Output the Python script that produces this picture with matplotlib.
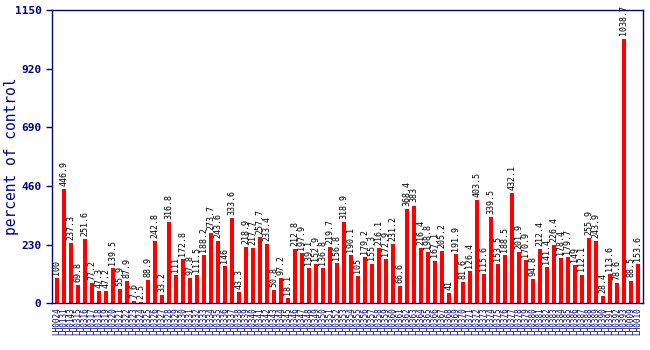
import numpy as np
import matplotlib
matplotlib.use("Agg")
import matplotlib.pyplot as plt

# percent of control per line
values = [100, 446.9, 237.3, 69.8, 251.6, 77.2, 47.3, 47.2, 139.5, 55.9,
          87.9, 7.6, 2.5, 88.9, 242.8, 33.2, 316.8, 111, 172.8, 97.8,
          111.5, 188.2, 273.7, 243.6, 146, 333.6, 43.3, 218.9, 217.7, 257.7,
          233.4, 50.8, 97.2, 18.1, 212.8, 197.9, 139.1, 152.9, 136.8, 219.7,
          156.8, 318.9, 190.1, 105, 179.2, 155.3, 216.1, 172.9, 231.2, 66.6,
          368.4, 383, 216.4, 198.8, 167.1, 205.2, 41, 191.9, 81.6, 126.4,
          403.5, 115.6, 339.5, 153.5, 188.5, 432.1, 201.9, 170.9, 94.8, 212.4,
          141.4, 226.4, 178.4, 179.7, 149, 112.1, 255.9, 243.9, 28.4, 113.6,
          78.6, 1038.7, 88.5, 153.6]

labels = ["LH0024", "LH0131", "LH0143", "LH0315", "LH0316", "LH0317", "LH0318",
          "LH0319", "LH0320", "LH0321", "LH0322", "LH0323", "LH0324", "LH0325",
          "LH0326", "LH0327", "LH0328", "LH0329", "LH0330", "LH0331", "LH0332",
          "LH0333", "LH0334", "LH0335", "LH0336", "LH0337", "LH0338", "LH0339",
          "LH0340", "LH0341", "LH0342", "LH0343", "LH0344", "LH0345", "LH0346",
          "LH0347", "LH0348", "LH0349", "LH0350", "LH0351", "LH0352", "LH0353",
          "LH0354", "LH0355", "LH0356", "LH0357", "LH0358", "LH0359", "LH0360",
          "LH0361", "LH0362", "LH0363", "LH0364", "LH0365", "LH0366", "LH0367",
          "LH0368", "LH0369", "LH0370", "LH0371", "LH0372", "LH0373", "LH0374",
          "LH0375", "LH0376", "LH0377", "LH0378", "LH0379", "LH0380", "LH0381",
          "LH0382", "LH0383", "LH0384", "LH0385", "LH0386", "LH0387", "LH0388",
          "LH0389", "LH0390", "LH0391", "LH0392", "LH0393", "LH0009", "LH0010"]

yticks = [0, 230, 460, 690, 920, 1150]

navy = "#000080"
mono = "DejaVu Sans Mono"

fig = plt.figure(figsize=(6.5, 3.5), dpi=100)
ax = fig.add_axes([0.08, 0.134, 0.909, 0.837])

x = np.arange(len(values))
ax.bar(x, values, width=0.5, color="red")

for xi, v in zip(x, values):
    ax.text(xi, v + 12, f"{v:g}", rotation=90, ha="center", va="bottom",
            fontsize=6, family=mono, color="black")

ax.set_xlim(-0.7, len(values) - 0.3)
ax.set_ylim(0, 1150)
ax.set_yticks(yticks)
ax.set_yticklabels([str(t) for t in yticks], family=mono, fontweight="bold",
                   fontsize=8, color=navy)
ax.set_xticks(x)
ax.set_xticklabels(labels, rotation=90, family=mono, fontsize=5.5, color=navy)
ax.tick_params(axis="x", length=0, pad=3)
ax.tick_params(axis="y", length=4, color=navy, width=1)
ax.set_ylabel("percent of control", family=mono, fontsize=10.5, color=navy,
              va="center")
ax.yaxis.set_label_coords(-0.068, 0.5)

for s in ax.spines.values():
    s.set_color(navy)
    s.set_linewidth(1)

fig.savefig("out.png", dpi=100)
